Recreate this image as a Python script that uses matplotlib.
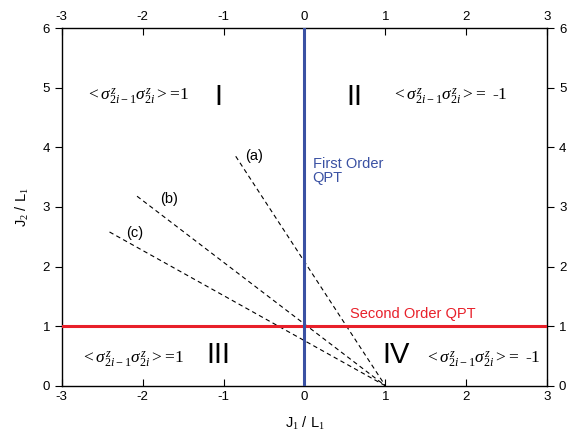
import numpy as np
import matplotlib
matplotlib.use('Agg')
import matplotlib.pyplot as plt

plt.rcParams['font.family'] = 'Liberation Sans'
plt.rcParams['mathtext.fontset'] = 'custom'
plt.rcParams['mathtext.rm'] = 'Liberation Serif'
plt.rcParams['mathtext.it'] = 'Liberation Serif:italic'
plt.rcParams['axes.unicode_minus'] = False

# dashed lines, all through (1, 0): start point at the upper-left end
line_names = ['(a)', '(b)', '(c)']
line_x0 = [-0.85, -2.07, -2.41]
line_y0 = [3.85, 3.18, 2.58]
label_x = [-0.62, -1.68, -2.1]
label_y = [3.86, 3.13, 2.57]

# region labels
regions = ['I', 'II', 'III', 'IV']
region_x = [-1.06, 0.62, -1.07, 1.13]
region_y = [4.84, 4.84, 0.52, 0.52]
corr_text = [r'$<\sigma^{z}_{2i-1}\sigma^{z}_{2i}>\!=\!1$',
             r'$<\sigma^{z}_{2i-1}\sigma^{z}_{2i}>\!=$ -1',
             r'$<\sigma^{z}_{2i-1}\sigma^{z}_{2i}>\!=\!1$',
             r'$<\sigma^{z}_{2i-1}\sigma^{z}_{2i}>\!=$ -1']
corr_x = [-2.06, 1.8, -2.12, 2.2]
corr_y = [4.84, 4.84, 0.44, 0.44]

fig = plt.figure(figsize=(5.67, 4.46), dpi=100)
ax = fig.add_axes([0.109, 0.135, 0.856, 0.802])

ax.axhline(1, color='#e8202a', lw=2.2, zorder=3)
ax.axvline(0, color='#3a51a3', lw=2.2, zorder=3)

for x0, y0 in zip(line_x0, line_y0):
    ax.plot([x0, 1], [y0, 0], ls=(0, (4, 3)), color='black', lw=0.8)
for name, lx, ly in zip(line_names, label_x, label_y):
    ax.text(lx, ly, name, fontsize=10.5, ha='center', va='center')

for r, rx, ry in zip(regions, region_x, region_y):
    ax.text(rx, ry, r, fontsize=21, ha='center', va='center')
for t, cx, cy in zip(corr_text, corr_x, corr_y):
    ax.text(cx, cy, t, fontsize=12.5, ha='center', va='center',
            family='Liberation Serif')

ax.text(0.1, 3.6, 'First Order\nQPT', color='#3a51a3', fontsize=10.5,
        ha='left', va='center', linespacing=1.0)
ax.text(1.34, 1.2, 'Second Order QPT', color='#e8202a', fontsize=10.5,
        ha='center', va='center')

ax.set_xlim(-3, 3)
ax.set_ylim(0, 6)
ax.set_xticks(np.arange(-3, 4, 1))
ax.set_yticks(np.arange(0, 7, 1))
ax.tick_params(axis='x', direction='in', top=True, labeltop=True,
               labelsize=9.5, length=5, pad=4)
ax.tick_params(axis='y', direction='out', right=True, labelright=True,
               labelsize=9.5, length=5)
for s in ax.spines.values():
    s.set_linewidth(1.0)

ax.set_xlabel(r'J$_1$ / L$_1$', fontsize=10.5, labelpad=8)
ax.set_ylabel(r'J$_2$ / L$_1$', fontsize=10.5, labelpad=8)

fig.savefig('out.png', dpi=100)
